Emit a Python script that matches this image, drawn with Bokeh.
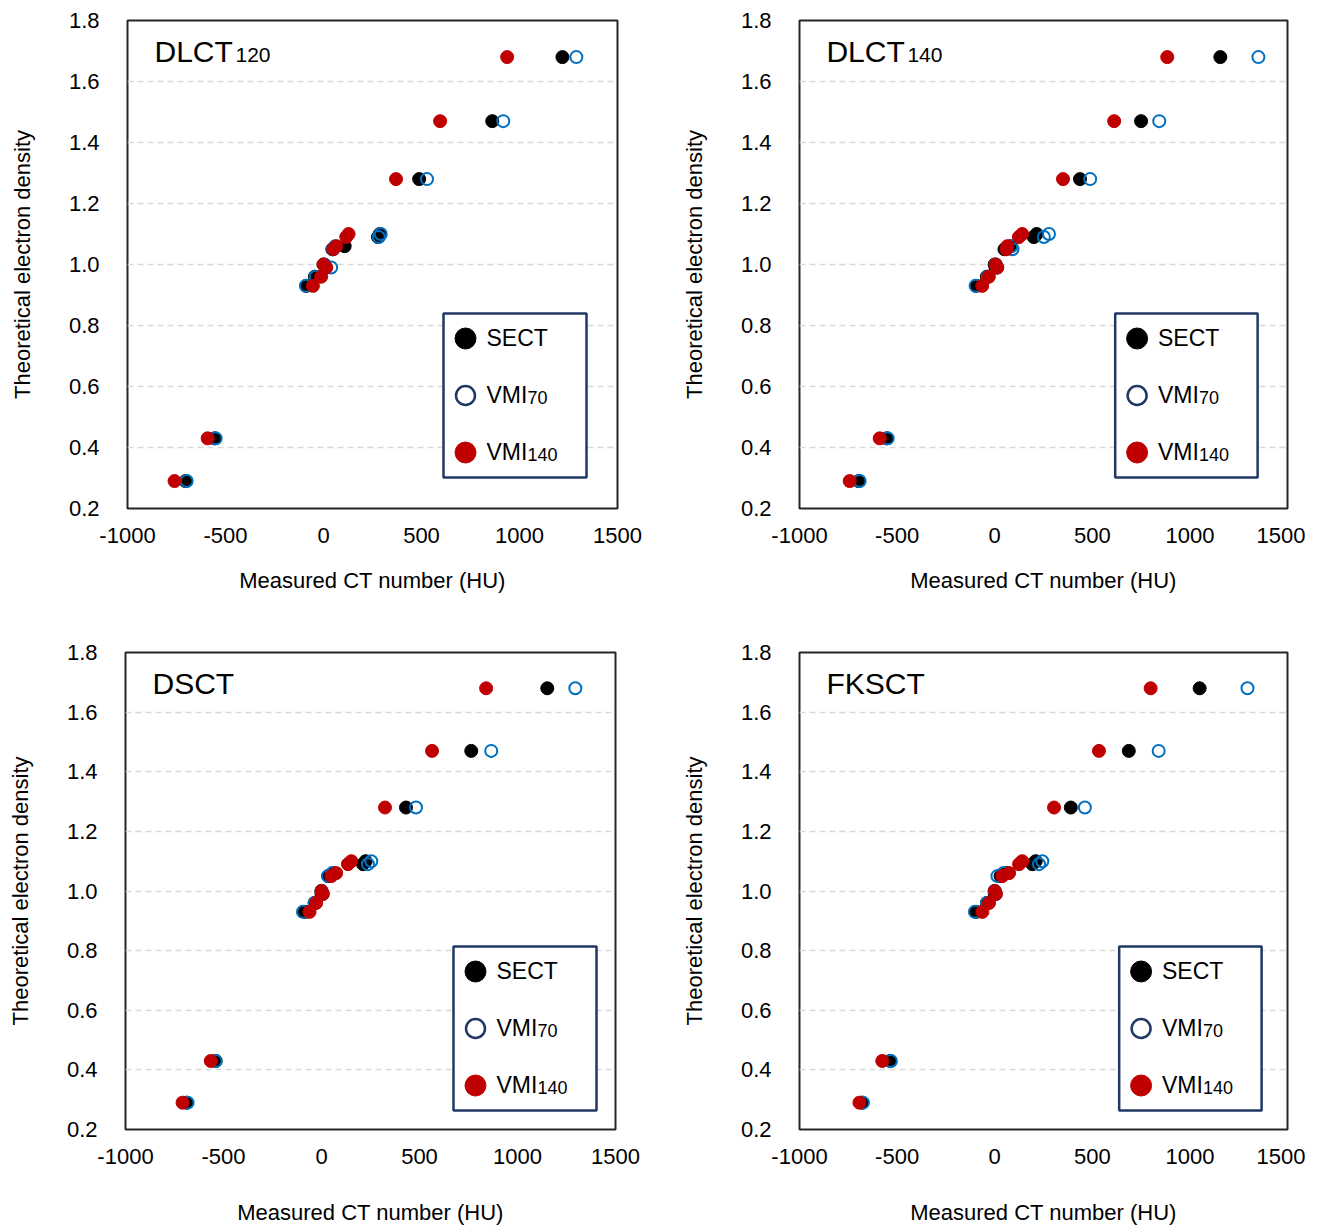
from bokeh.plotting import figure
from bokeh.layouts import column, row
from bokeh.models import Range1d, NumeralTickFormatter
from bokeh.core.properties import value
from bokeh.embed import file_html
from bokeh.resources import INLINE

# ---------------- data ----------------
density = [0.29, 0.43, 0.93, 0.96, 0.99, 1.00, 1.05, 1.06, 1.09, 1.10, 1.28, 1.47, 1.68]

dlct120_sect = [-704, -555, -88, -44, 10, 0, 45, 108, 278, 287, 488, 861, 1219]
dlct120_vmi70 = [-698, -550, -90, -40, 39, 5, 48, 60, 282, 292, 528, 917, 1290]
dlct120_vmi140 = [-760, -591, -54, -12, 14, 0, 50, 65, 116, 128, 370, 595, 937]

dlct140_sect = [-697, -553, -95, -40, 5, 0, 50, 80, 200, 215, 437, 750, 1156]
dlct140_vmi70 = [-692, -548, -98, -35, 13, 5, 91, 85, 252, 278, 489, 843, 1351]
dlct140_vmi140 = [-743, -589, -64, -30, 13, 5, 60, 65, 124, 141, 350, 612, 884]

dsct_sect = [-688, -540, -85, -35, 0, 0, 35, 60, 212, 225, 431, 764, 1152]
dsct_vmi70 = [-683, -540, -95, -35, 5, 0, 33, 55, 237, 254, 482, 866, 1295]
dsct_vmi140 = [-709, -565, -61, -27, 7, 0, 50, 75, 135, 152, 324, 564, 840]

fksct_sect = [-678, -535, -95, -40, 0, 0, 30, 60, 193, 210, 390, 687, 1050]
fksct_vmi70 = [-675, -532, -102, -40, 5, 0, 14, 45, 227, 244, 462, 840, 1295]
fksct_vmi140 = [-693, -576, -63, -29, 6, 0, 39, 74, 125, 141, 304, 534, 799]

x_ticks = [-1000, -500, 0, 500, 1000, 1500]
y_ticks = [0.2, 0.4, 0.6, 0.8, 1.0, 1.2, 1.4, 1.6, 1.8]
series_names = ["SECT", "VMI", "VMI"]
series_subs = ["", "70", "140"]

panels = [
    ("DLCT", "120", dlct120_sect, dlct120_vmi70, dlct120_vmi140),
    ("DLCT", "140", dlct140_sect, dlct140_vmi70, dlct140_vmi140),
    ("DSCT", "", dsct_sect, dsct_vmi70, dsct_vmi140),
    ("FKSCT", "", fksct_sect, fksct_vmi70, fksct_vmi140),
]

# ---------------- style / layout ----------------
FONT = value("Liberation Sans")
XMIN, XMAX = -1000, 1500
YMIN, YMAX = 0.2, 1.8
BLACK = "#000000"
BLUE = "#0070C0"
RED = "#C00000"
NAVY = "#1F3864"

# per panel: border left, top, frame w, frame h, border right, bottom, x-label standoff, legend offsets
geom = [
    dict(bl=127, bt=20, fw=490, fh=488, br=61, bb=130, xls=22, leg=(316, 293)),
    dict(bl=119, bt=20, fw=490, fh=488, br=18, bb=130, xls=22, leg=(317, 293)),
    dict(bl=125, bt=14, fw=490, fh=477, br=63, bb=98, xls=33, leg=(328, 294)),
    dict(bl=119, bt=14, fw=490, fh=477, br=18, bb=98, xls=33, leg=(321, 294)),
]

SHIFT = 0.36  # baseline correction (fraction of font size)


def make_panel(spec, g):
    name, sub, sect, vmi70, vmi140 = spec
    fw, fh = g["fw"], g["fh"]
    p = figure(width=g["bl"] + fw + g["br"], height=g["bt"] + fh + g["bb"],
               x_range=Range1d(XMIN, XMAX), y_range=Range1d(YMIN, YMAX),
               output_backend="svg", toolbar_location=None,
               min_border_left=g["bl"], min_border_right=g["br"],
               min_border_top=g["bt"], min_border_bottom=g["bb"])
    p.outline_line_color = "#262626"
    p.outline_line_width = 2
    p.outline_line_alpha = 1.0
    p.background_fill_color = "white"
    p.border_fill_color = "white"

    for ax in (p.xaxis, p.yaxis):
        ax.axis_line_color = None
        ax.major_tick_line_color = None
        ax.minor_tick_line_color = None
        ax.major_tick_out = 0
        ax.major_tick_in = 0
        ax.major_label_text_font = "Liberation Sans"
        ax.major_label_text_font_size = "22px"
        ax.major_label_text_color = "#000000"
        ax.axis_label_text_font = "Liberation Sans"
        ax.axis_label_text_font_size = "22px"
        ax.axis_label_text_font_style = "normal"
        ax.axis_label_text_color = "#000000"
    p.xaxis.ticker = x_ticks
    p.yaxis.ticker = y_ticks
    p.xaxis.formatter = NumeralTickFormatter(format="0")
    p.yaxis.formatter = NumeralTickFormatter(format="0.0")
    p.xaxis.major_label_standoff = 19
    p.yaxis.major_label_standoff = 28
    p.xaxis.axis_label = "Measured CT number (HU)"
    p.yaxis.axis_label = "Theoretical electron density"
    p.xaxis.axis_label_standoff = g["xls"]
    p.yaxis.axis_label_standoff = 31

    p.xgrid.visible = False
    p.ygrid.grid_line_color = "#d9d9d9"
    p.ygrid.grid_line_dash = "6 4"
    p.ygrid.grid_line_width = 1.5

    # data
    p.scatter(sect, density, size=13, marker="circle", fill_color=BLACK, line_color=BLACK)
    p.scatter(vmi70, density, size=12, marker="circle", fill_color=None, line_color=BLUE, line_width=2)
    p.scatter(vmi140, density, size=13, marker="circle", fill_color=RED, line_color=RED)

    def dx(px):
        return XMIN + px / fw * (XMAX - XMIN)

    def dy(py):
        return YMAX - py / fh * (YMAX - YMIN)

    # panel title with subscript
    p.text([dx(27)], [dy(42 - SHIFT * 30)], text=[name], text_font=FONT, text_font_size="30px",
           text_baseline="alphabetic", text_align="left", text_color="#000000")
    if sub:
        p.text([dx(27)], [dy(42 - SHIFT * 21)], text=[sub], text_font=FONT, text_font_size="21px",
               text_baseline="alphabetic", text_align="left", text_color="#000000", x_offset=81)

    # legend box
    lx, ly = g["leg"]
    p.quad(left=[dx(lx)], right=[dx(lx + 143)], top=[dy(ly)], bottom=[dy(ly + 164)],
           fill_color="white", line_color=NAVY, line_width=2.5)
    rows = [ly + 25, ly + 82, ly + 139]
    p.scatter([dx(lx + 22)], [dy(rows[0])], size=21, marker="circle", fill_color=BLACK, line_color=BLACK)
    p.scatter([dx(lx + 22)], [dy(rows[1])], size=19, marker="circle", fill_color=None, line_color=NAVY, line_width=2.5)
    p.scatter([dx(lx + 22)], [dy(rows[2])], size=21, marker="circle", fill_color=RED, line_color=RED)
    for i in range(3):
        p.text([dx(lx + 43)], [dy(rows[i] + 8 - SHIFT * 23)], text=[series_names[i]], text_font=FONT,
               text_font_size="23px", text_baseline="alphabetic", text_align="left", text_color="#000000")
        if series_subs[i]:
            p.text([dx(lx + 43)], [dy(rows[i] + 8 - SHIFT * 18)], text=[series_subs[i]], text_font=FONT,
                   text_font_size="18px", text_baseline="alphabetic", text_align="left",
                   text_color="#000000", x_offset=41)
    return p


figs = [make_panel(s, g) for s, g in zip(panels, geom)]
layout = column(row(figs[0], figs[1]), row(figs[2], figs[3]))

open("out.html", "w").write(file_html(layout, INLINE))
